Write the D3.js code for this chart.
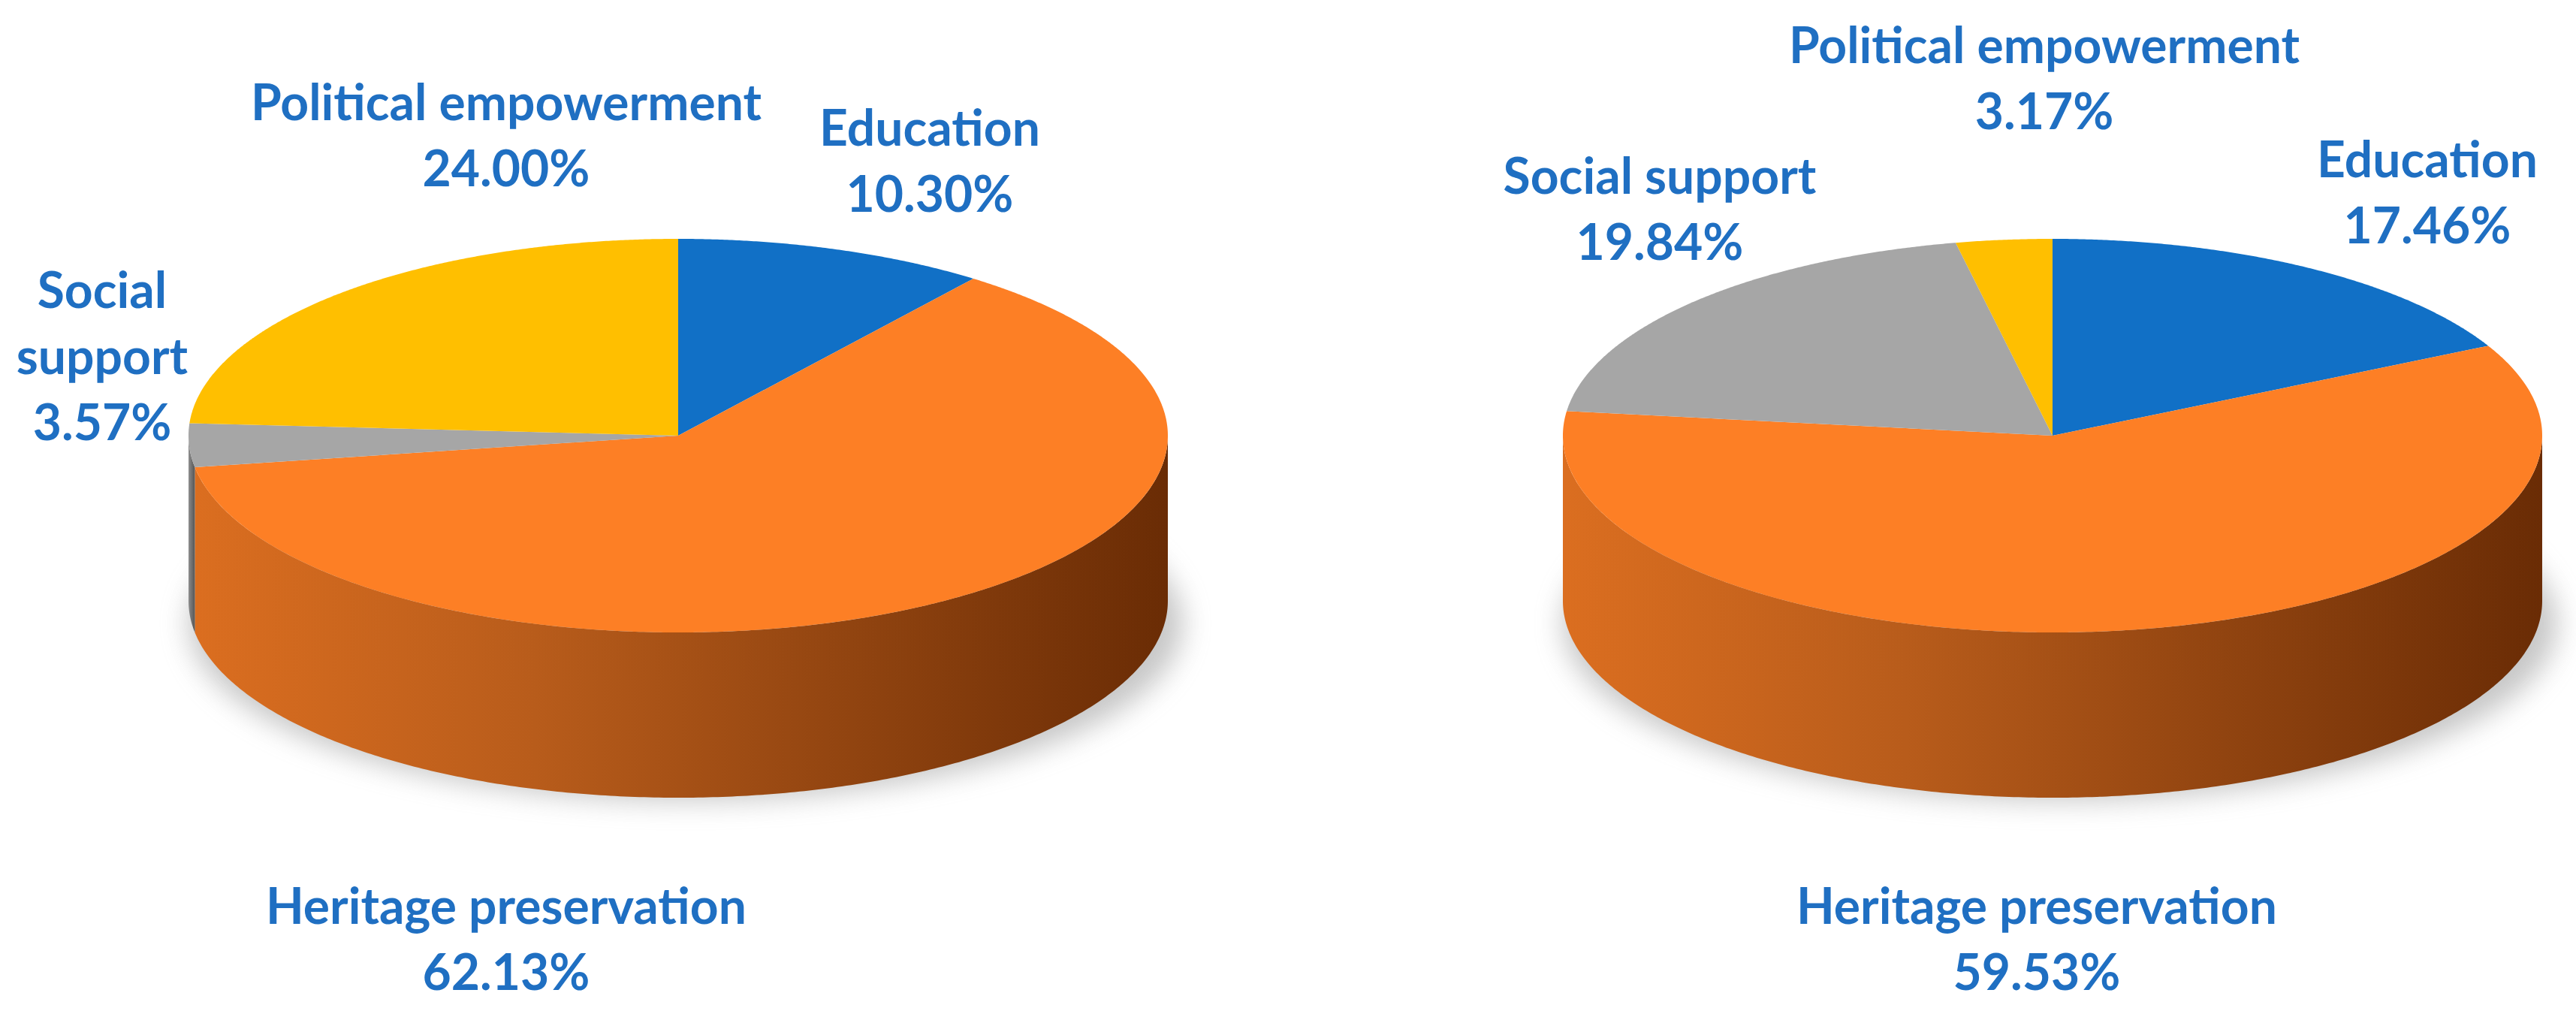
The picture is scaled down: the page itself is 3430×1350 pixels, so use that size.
<!DOCTYPE html>
<html><head><meta charset="utf-8">
<script src="https://cdn.jsdelivr.net/npm/d3@7"></script>
<style>body{margin:0;background:#fff}</style>
</head><body>
<svg id="chart" width="3430" height="1350"></svg>
<script>
const categories = ['Education', 'Heritage preservation', 'Social support', 'Political empowerment'];
const valuesLeft = [10.30, 62.13, 3.57, 24.00];
const valuesRight = [17.46, 59.53, 19.84, 3.17];
const colors = ['#1170c6', '#fd7f25', '#a6a6a6', '#ffbf00'];
const darkColors = ['#0a3f70', '#6a2c05', '#555', '#8a6600'];

// label anchor spots [x, y] for each category, per pie
const labelsLeft = [[1238, 194, 'one'], [674, 1230, 'one'], [136, 410, 'split'], [674, 160, 'one']];
const labelsRight = [[3232, 236, 'one'], [2712, 1230, 'one'], [2210, 258, 'one'], [2722, 84, 'one']];

const svg = d3.select('#chart');
const defs = svg.append('defs');
defs.append('filter').attr('id', 'blur').append('feGaussianBlur').attr('stdDeviation', 18);

function shadeGrad(id, i) {
  const g = defs.append('linearGradient').attr('id', id).attr('x1', '0').attr('x2', '1').attr('y1', 0).attr('y2', 0);
  g.append('stop').attr('offset', '0').attr('stop-color', d3.color(colors[i]).darker(0.4));
  g.append('stop').attr('offset', '0.35').attr('stop-color', d3.color(colors[i]).darker(0.9));
  g.append('stop').attr('offset', '1').attr('stop-color', darkColors[i]);
}
colors.forEach((c, i) => shadeGrad('wall' + i, i));

const pie = d3.pie().value(d => d).sort(null);

function pt(cx, cy, rx, ry, a, dy) {
  return [cx + rx * Math.sin(a), cy - ry * Math.cos(a) + (dy || 0)];
}

function drawPie(cx, cy, values, labels) {
  const rx = 652, ry = 262, depth = 220;
  const g = svg.append('g');
  g.append('ellipse').attr('cx', cx + 10).attr('cy', cy + depth + 30).attr('rx', rx + 10).attr('ry', ry * 0.9)
    .attr('fill', '#999').attr('opacity', 0.55).attr('filter', 'url(#blur)');
  const arcs = pie(values);
  // walls
  arcs.forEach((d, i) => {
    const s = Math.max(d.startAngle, Math.PI / 2), e = Math.min(d.endAngle, Math.PI * 1.5);
    if (e <= s) return;
    const top = d3.range(s, e, 0.01).concat([e]).map(a => pt(cx, cy, rx, ry, a));
    const bot = top.map(p => [p[0], p[1] + depth]).reverse();
    g.append('path').attr('d', d3.line()(top.concat(bot)) + 'Z').attr('fill', 'url(#wall' + i + ')');
  });
  // top faces
  arcs.forEach((d, i) => {
    const pts = d3.range(d.startAngle, d.endAngle, 0.005).concat([d.endAngle]).map(a => pt(cx, cy, rx, ry, a));
    g.append('path').attr('d', d3.line()([[cx, cy]].concat(pts)) + 'Z').attr('fill', colors[i]);
  });
  // labels
  arcs.forEach((d, i) => {
    const [x, y, mode] = labels[i];
    const t = g.append('text').attr('x', x).attr('y', y).attr('text-anchor', 'middle')
      .attr('font-family', 'Lato, "Open Sans", sans-serif').attr('font-weight', 700)
      .attr('font-size', 66).attr('fill', '#1f6fc2');
    const lines = mode === 'split' ? categories[i].split(' ') : [categories[i]];
    lines.push(d.data.toFixed(2) + '%');
    lines.forEach((s, k) => t.append('tspan').attr('x', x).attr('dy', k ? 88 : 0).text(s));
  });
}

drawPie(903, 580, valuesLeft, labelsLeft);
drawPie(2733, 580, valuesRight, labelsRight);
</script>
</body></html>
